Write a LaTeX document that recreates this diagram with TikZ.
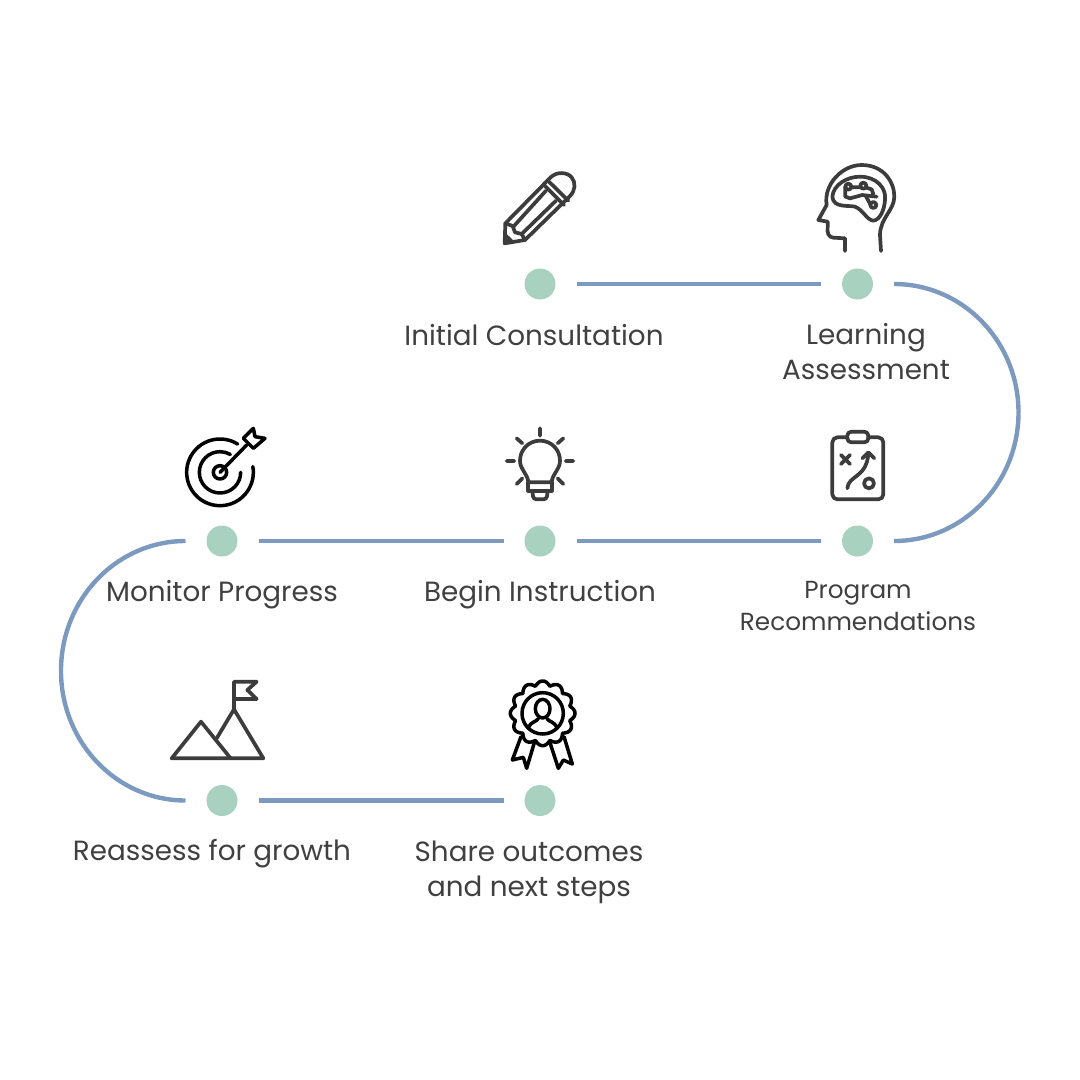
\documentclass[tikz,border=0pt]{standalone}
\usepackage{fontspec}
\setmainfont{Poppins}
\definecolor{linec}{HTML}{7C9ABF}
\definecolor{dotc}{HTML}{A9D1BF}
\definecolor{textc}{HTML}{404040}
\definecolor{iconc}{HTML}{3C3C3C}
\tikzset{
  dot/.style={circle,fill=dotc,draw=none,minimum size=31pt,inner sep=0pt,outer sep=21pt},
  conn/.style={draw=linec,line width=4.4pt},
  lab/.style={text=textc,align=center,inner sep=0pt,font=\fontsize{27.8}{35}\selectfont},
  labsmall/.style={text=textc,align=center,inner sep=0pt,font=\fontsize{24.7}{32}\selectfont},
  icon/.style 2 args={shift={(#1,#2)},x=0.33333pt,y=-0.33333pt,line width=3.7pt,draw=iconc,line cap=round,line join=round},
  iconk/.style 2 args={shift={(#1,#2)},x=0.33333pt,y=-0.33333pt,line width=3.5pt,draw=black,line cap=round,line join=round}
}
\begin{document}
\begin{tikzpicture}[x=1pt,y=-1pt]
\useasboundingbox (0,0) rectangle (1080,1080);
\node[dot] (ini) at (540,284) {};
\node[dot] (lrn) at (857.5,284) {};
\node[dot] (prg) at (857.5,541) {};
\node[dot] (beg) at (540,541) {};
\node[dot] (mon) at (222,541) {};
\node[dot] (rea) at (222,800.5) {};
\node[dot] (sha) at (540,800.5) {};
\draw[conn] (ini) -- (lrn);
\draw[conn] (beg) -- (prg);
\draw[conn] (mon) -- (beg);
\draw[conn] (rea) -- (sha);
\draw[conn] (lrn.east) arc[start angle=90,end angle=-90,x radius=124.5pt,y radius=128.5pt] -- (prg.east);
\draw[conn] (mon.west) arc[start angle=90,end angle=270,x radius=124.5pt,y radius=129.75pt] -- (rea.west);
\node[lab] (t1) at (534,335) {Initial Consultation};
\node[lab] (t2) at (866,352) {Learning\\Assessment};
\node[labsmall] (t3) at (858,606) {Program\\Recommendations};
\node[lab] (t4) at (540,595) {Begin Instruction};
\node[lab] (t5) at (222,595) {Monitor Progress};
\node[lab] (t6) at (212,854) {Reassess for growth};
\node[lab] (t7) at (529,872) {Share outcomes\\and next steps};
% pencil
\begin{scope}[icon={490}{160}]
\draw (46,190) -- (182,52) .. controls (200,34) and (232,36) .. (245,52) .. controls (258,68) and (256,92) .. (240,108) -- (105,240) -- (44,250) -- cycle;
\fill[iconc] (40,252) -- (50,222) -- (72,243) -- cycle;
\draw (46,190) -- (68,198) -- (75,217) -- (95,222) -- (105,240);
\draw (72,198) -- (168,92) (95,222) -- (198,122);
\draw (165,78) -- (222,135) (178,66) -- (235,122);
\end{scope}
% head
\begin{scope}[icon={805}{155}]
\draw (120,288) -- (120,250) -- (85,248) .. controls (70,246) and (66,235) .. (68,215) -- (68,200) -- (40,195) -- (65,150) .. controls (55,90) and (110,30) .. (170,30) .. controls (235,30) and (268,80) .. (268,125) .. controls (268,165) and (225,190) .. (225,240) -- (228,288);
\draw (82,125) .. controls (85,90) and (125,65) .. (165,65) .. controls (215,65) and (245,100) .. (240,135) .. controls (238,165) and (225,195) .. (205,197) .. controls (185,195) and (175,165) .. (150,155) .. controls (130,150) and (85,160) .. (82,125) -- cycle;
\draw (130,95) circle[radius=9] (175,92) circle[radius=9] (205,150) circle[radius=9];
\draw (121,95) -- (121,125) -- (135,130) -- (172,120) -- (215,125);
\draw (139,97) -- (166,97) (184,98) -- (200,103) -- (205,118) (182,122) -- (196,148);
\end{scope}
% clipboard
\begin{scope}[icon={815}{420}]
\draw[rounded corners=5pt] (97,52) -- (52,52) -- (52,238) -- (205,238) -- (205,52) -- (160,52);
\draw[rounded corners=4pt] (97,67) -- (97,35) -- (160,35) -- (160,67) -- cycle;
\draw (78,105) -- (105,132) (105,105) -- (78,132);
\draw (97,205) .. controls (100,165) and (155,175) .. (160,100);
\draw (142,115) -- (160,97) -- (178,115);
\draw (162,190) circle[radius=15];
\end{scope}
% bulb
\begin{scope}[icon={495}{420}]
\draw (135,25) -- (135,47) (65,55) -- (82,70) (205,55) -- (188,70) (35,123) -- (58,123) (212,123) -- (235,123) (65,192) -- (82,175) (205,192) -- (188,175);
\draw (100,187) .. controls (98,160) and (75,150) .. (75,122) .. controls (75,90) and (100,62) .. (135,62) .. controls (170,62) and (195,90) .. (195,122) .. controls (195,150) and (172,160) .. (170,187) -- cycle;
\draw (100,187) -- (100,212) -- (170,212) -- (170,187);
\draw[rounded corners=3pt] (112,212) -- (115,238) -- (155,238) -- (158,212);
\end{scope}
% target
\begin{scope}[iconk={175}{420}]
\draw (135,157) ++(-10:100) arc[start angle=-10,end angle=302,radius=100];
\draw (135,157) ++(0:62) arc[start angle=0,end angle=300,radius=62];
\draw (135,157) circle[radius=20];
\draw (135,157) -- (215,75);
\draw (205,55) -- (235,25) -- (240,50) -- (270,55) -- (235,85) -- (205,55);
\end{scope}
% mountain
\begin{scope}[icon={160}{670}]
\draw (35,265) -- (310,265) -- (222,118) -- (170,205);
\draw (35,265) -- (123,155) -- (212,265);
\draw (222,118) -- (222,35) -- (290,35) -- (262,60) -- (290,87) -- (222,87);
\end{scope}
% medal
\begin{scope}[iconk={495}{670}]
\draw plot[domain=0:360,samples=361] ({143+(84+13*abs(cos(6*\x)))*cos(\x)},{130+(84+13*abs(cos(6*\x)))*sin(\x)}) -- cycle;
\draw (143,130) circle[radius=62];
\draw (143,116) ellipse[x radius=22,y radius=28];
\draw (100,172) .. controls (108,155) and (125,155) .. (130,146);
\draw (186,172) .. controls (178,155) and (161,155) .. (156,146);
\draw (78,200) -- (52,270) -- (85,262) -- (95,295) -- (118,218);
\draw (207,200) -- (232,282) -- (205,270) -- (190,295) -- (165,218);
\end{scope}
\end{tikzpicture}
\end{document}
